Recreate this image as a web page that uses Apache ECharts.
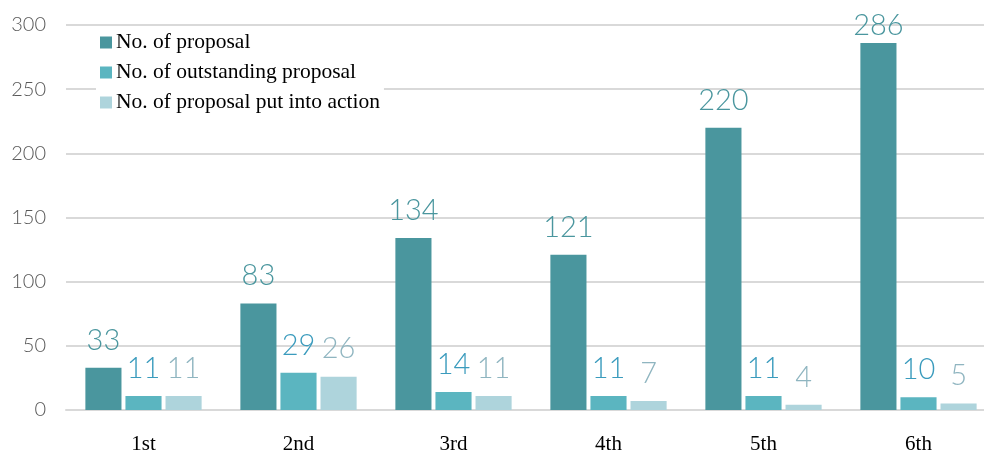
<!DOCTYPE html>
<html><head><meta charset="utf-8">
<script src="https://cdn.jsdelivr.net/npm/echarts@6/dist/echarts.min.js"></script>
<style>html,body{margin:0;padding:0;background:#fff;overflow:hidden;width:984px;height:454px}#c{width:996px;height:454px}</style>
</head><body><div id="c"></div>
<script>
const categories = ['1st','2nd','3rd','4th','5th','6th'];
const proposals = [33, 83, 134, 121, 220, 286];
const outstanding = [11, 29, 14, 11, 11, 10];
const actioned = [11, 26, 11, 7, 4, 5];
const seriesNames = ['No. of proposal','No. of outstanding proposal','No. of proposal put into action'];
const yTicks = [0, 50, 100, 150, 200, 250, 300];

const colors = ['#4a969e','#5bb5c0','#aed4dc'];
const labelColors = ['#4a969e','#3a9bbd','#8fb5c0'];
const numFont = 'Lato';
const yMax = yTicks[yTicks.length-1];
function mk(i, data){
  return {
    name: seriesNames[i], type:'bar',
    // labels near the plot top are pulled closer to the bar so they stay inside the plot
    data: data.map(v => v > yMax * 0.9 ? {value:v, label:{distance:3}} : v),
    barGap:'11%', barCategoryGap:'25%',
    itemStyle:{color:colors[i]},
    label:{show:true, position:'top', distance:13, color:labelColors[i],
      fontFamily:numFont, fontWeight:300, fontSize:29},
    emphasis:{disabled:true}
  };
}
const chart = echarts.init(document.getElementById('c'), null, {renderer:'canvas'});
chart.setOption({
  animation:false,
  backgroundColor:'#fff',
  grid:{left:66, right:0, top:25, bottom:44, containLabel:false, outerBoundsMode:'none'},
  legend:{
    orient:'vertical', left:96, top:29, itemWidth:12, itemHeight:12, itemGap:7,
    icon:'rect', backgroundColor:'rgba(255,255,255,1)', padding:[2,4,2,4],
    textStyle:{fontFamily:'Liberation Serif', fontSize:21.5, color:'#000', lineHeight:23, padding:[0,0,0,-1]},
    data: seriesNames
  },
  xAxis:{type:'category', data:categories,
    axisLine:{lineStyle:{color:'#d9d9d9', width:2}},
    axisTick:{show:false},
    axisLabel:{fontFamily:'Liberation Serif', fontSize:21, color:'#000', margin:24}
  },
  yAxis:{type:'value', min:yTicks[0], max:yMax, interval:50,
    axisLine:{show:false}, axisTick:{show:false},
    splitLine:{lineStyle:{color:'#d9d9d9', width:2}},
    axisLabel:{fontFamily:numFont, fontWeight:300, fontSize:20, color:'#595959', margin:20}
  },
  series:[mk(0,proposals), mk(1,outstanding), mk(2,actioned)]
});
</script></body></html>
